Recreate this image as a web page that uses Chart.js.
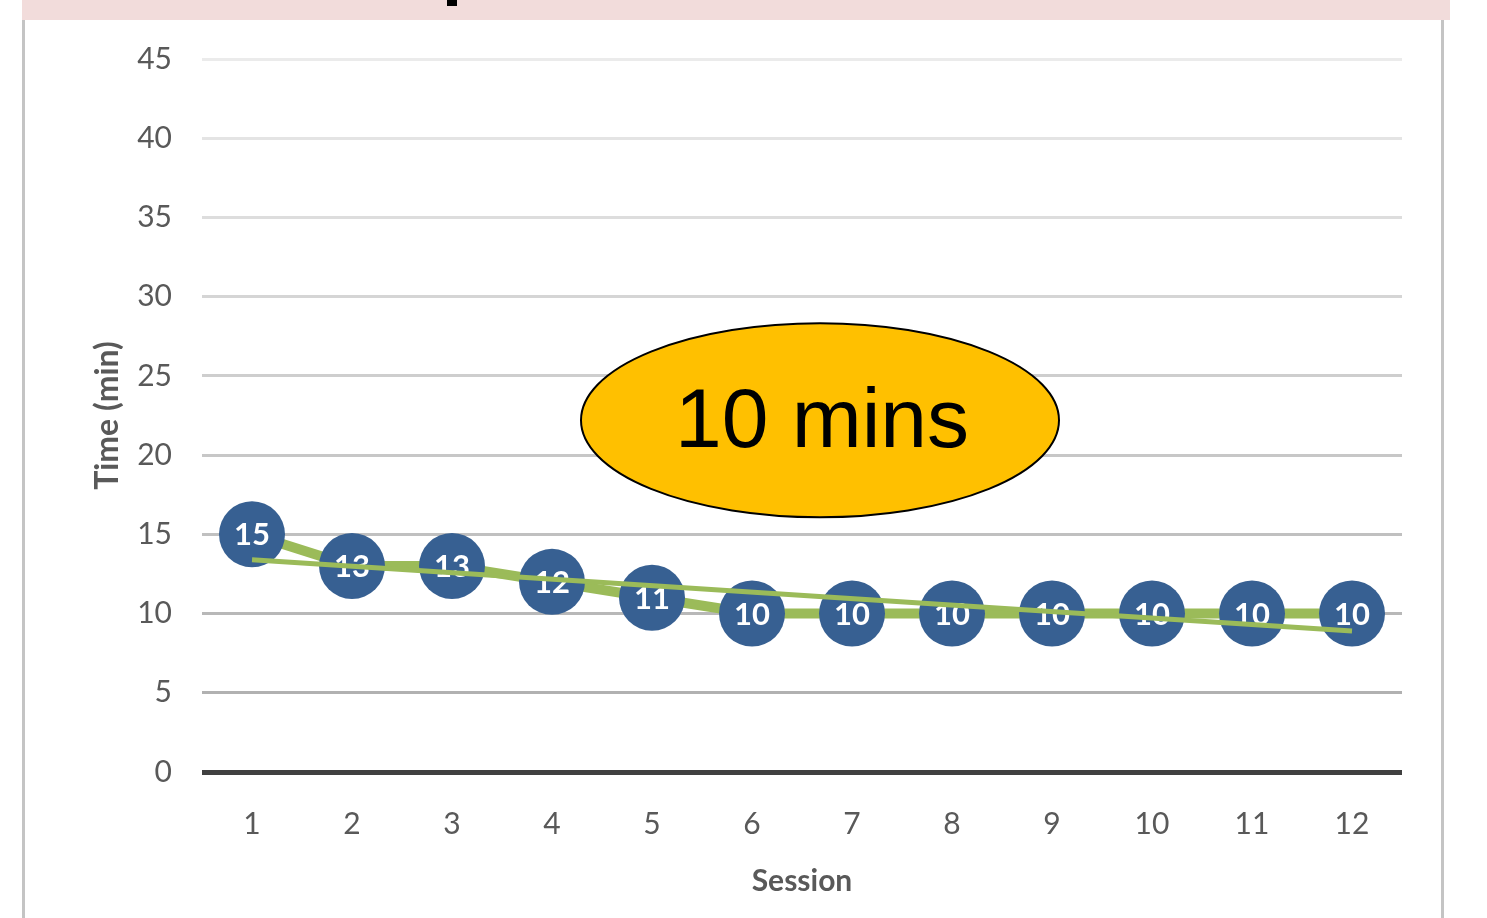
<!DOCTYPE html>
<html>
<head>
<meta charset="utf-8">
<script src="https://cdn.jsdelivr.net/npm/chart.js@4"></script>
<style>
  html, body { margin: 0; padding: 0; background: #fff; }
  #wrap { width: 1487px; height: 918px; position: relative; }
</style>
</head>
<body>
<div id="wrap"><canvas id="chart"></canvas></div>
<script>
// values
const sessions = ['1', '2', '3', '4', '5', '6', '7', '8', '9', '10', '11', '12'];
const timeMin = [15, 13, 13, 12, 11, 10, 10, 10, 10, 10, 10, 10];
// linear trendline, only its two ends are visible
const trendSessions = ['1', '12'];
const trendValues = [13.4, 8.9];
const calloutText = '10 mins';

const font = 'Lato, "Open Sans", sans-serif';

// grid lines fade from dark (bottom) to light (top)
const gridColor = (ctx) => {
  const v = ctx.tick ? ctx.tick.value : 0;
  if (v === 0) return '#404040';
  const c = Math.round(170 + 65 * (v / 45));
  return `rgb(${c},${c},${c})`;
};

const decor = {
  id: 'decor',
  beforeDraw(chart) {
    const ctx = chart.ctx;
    ctx.save();
    ctx.fillStyle = '#fff';
    ctx.fillRect(0, 0, chart.width, chart.height);
    // pink header strip and frame lines of the slide
    ctx.fillStyle = '#f2dcdb';
    ctx.fillRect(22, 0, 1428, 20);
    ctx.fillStyle = '#000';
    ctx.fillRect(447, 0, 10, 6);
    ctx.fillStyle = '#c4c4c4';
    ctx.fillRect(22, 20, 3, chart.height - 20);
    ctx.fillRect(1441, 20, 3, chart.height - 20);
    ctx.restore();
  },
  afterDatasetDraw(chart, args) {
    if (args.index !== 0) return;
    const ctx = chart.ctx;
    const meta = chart.getDatasetMeta(0);
    ctx.save();
    ctx.fillStyle = '#fff';
    ctx.font = `bold 31px ${font}`;
    ctx.textAlign = 'center';
    ctx.textBaseline = 'middle';
    meta.data.forEach((pt, i) => {
      ctx.fillText(String(timeMin[i]), pt.x, pt.y + 1);
    });
    ctx.restore();
  },
  afterDraw(chart) {
    const ctx = chart.ctx;
    const x = chart.scales.x.getPixelForValue(5.68);
    const y = chart.scales.y.getPixelForValue(22.2);
    ctx.save();
    ctx.beginPath();
    ctx.ellipse(x, y, 239, 97, 0, 0, Math.PI * 2);
    ctx.fillStyle = '#ffc000';
    ctx.fill();
    ctx.lineWidth = 2;
    ctx.strokeStyle = '#000';
    ctx.stroke();
    ctx.fillStyle = '#000';
    ctx.font = '84px "Liberation Sans", Arial, sans-serif';
    ctx.textAlign = 'center';
    ctx.textBaseline = 'middle';
    ctx.fillText(calloutText, x + 2, y + 4);
    ctx.restore();
  }
};

new Chart(document.getElementById('chart'), {
  type: 'line',
  data: {
    labels: sessions,
    datasets: [
      {
        label: 'Time',
        data: timeMin,
        borderColor: '#9bbb59',
        borderWidth: 10,
        pointRadius: 33,
        pointHoverRadius: 33,
        pointBackgroundColor: '#376092',
        pointBorderWidth: 0,
        tension: 0,
        order: 1,
      },
      {
        label: 'Trend',
        data: trendSessions.map((s, i) => ({ x: s, y: trendValues[i] })),
        borderColor: '#9bbb59',
        borderWidth: 5,
        pointRadius: 0,
        tension: 0,
        order: 0,
      },
    ],
  },
  options: {
    responsive: true,
    maintainAspectRatio: false,
    animation: false,
    events: [],
    layout: { padding: { left: 84, right: 85, top: 59, bottom: 15 } },
    plugins: {
      legend: { display: false },
      tooltip: { enabled: false },
    },
    scales: {
      x: {
        offset: true,
        grid: { display: false, drawTicks: false },
        border: { display: false },
        ticks: { color: '#595959', font: { family: font, size: 30 }, padding: 34 },
        title: {
          display: true,
          text: 'Session',
          color: '#595959',
          font: { family: font, size: 30, weight: 'bold' },
          padding: { top: 16 },
        },
        afterFit: (s) => { s.height = 131; },
      },
      y: {
        min: 0,
        max: 45,
        ticks: { stepSize: 5, color: '#595959', font: { family: font, size: 30 }, padding: 30 },
        grid: {
          color: gridColor,
          lineWidth: (ctx) => (ctx.tick && ctx.tick.value === 0 ? 5 : 3),
          drawTicks: false,
        },
        border: { display: false },
        title: {
          display: true,
          text: 'Time (min)',
          color: '#595959',
          font: { family: font, size: 32, weight: 'bold' },
          padding: { bottom: 10 },
        },
        afterFit: (s) => { s.width = 118; },
      },
    },
  },
  plugins: [decor],
});
</script>
</body>
</html>
